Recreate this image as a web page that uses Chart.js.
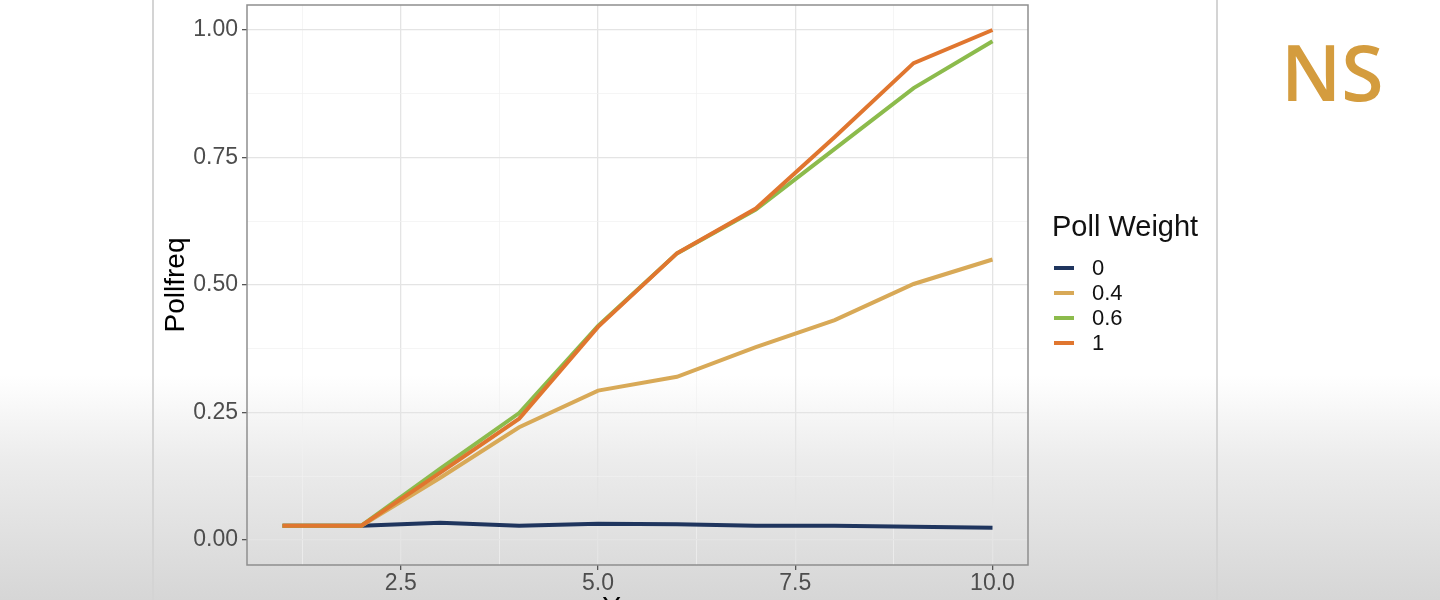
<!DOCTYPE html>
<html>
<head>
<meta charset="utf-8">
<script src="https://cdn.jsdelivr.net/npm/chart.js@4/dist/chart.umd.min.js"></script>
<style>
    html, body {
        margin: 0;
        padding: 0;
        width: 1440px;
        height: 600px;
        overflow: hidden;
    }
    body {
        position: relative;
        background: linear-gradient(to bottom, #ffffff 0px, #ffffff 375px, #ececec 460px, #d6d6d6 600px);
        font-family: "Liberation Sans", Arial, sans-serif;
    }
    .divider {
        position: absolute;
        top: 0;
        width: 2px;
        height: 600px;
        background: #d4d4d4;
    }
    #chartBox {
        position: absolute;
        left: 0;
        top: 0;
        width: 1440px;
        height: 640px;
    }
    #legend {
        position: absolute;
        left: 1052px;
        top: 209px;
        color: #111;
    }
    #legend .title {
        font-size: 29px;
        line-height: 34px;
        margin-bottom: 12px;
    }
    #legend .item {
        display: flex;
        align-items: center;
        height: 25px;
        font-size: 22px;
    }
    #legend .key {
        width: 20px;
        height: 4px;
        margin: 0 18px 0 2px;
    }
    #ns {
        position: absolute;
        left: 1281px;
        top: 22px;
        font-family: "Open Sans", sans-serif;
        font-weight: 600;
        font-size: 77px;
        line-height: 100px;
        color: #d49c3e;
    }
</style>
</head>
<body>
<div class="divider" style="left:152px"></div>
<div class="divider" style="left:1216px"></div>
<div id="chartBox"><canvas id="pollChart" width="1440" height="640"></canvas></div>
<div id="legend"></div>
<div id="ns">NS</div>

<script>
// Chart data
const steps = [1, 2, 3, 4, 5, 6, 7, 8, 9, 10];
const weightLabels = ['0', '0.4', '0.6', '1'];
const weightColors = ['#1f355e', '#d8a957', '#8cbb4c', '#e0762f'];
const freqW0 = [0.028, 0.028, 0.034, 0.028, 0.032, 0.031, 0.028, 0.028, 0.026, 0.024];
const freqW04 = [0.028, 0.028, 0.122, 0.221, 0.293, 0.320, 0.378, 0.431, 0.502, 0.550];
const freqW06 = [0.028, 0.028, 0.140, 0.249, 0.420, 0.562, 0.648, 0.767, 0.886, 0.978];
const freqW1 = [0.028, 0.028, 0.132, 0.238, 0.418, 0.562, 0.650, 0.790, 0.935, 1.000];
const xTicks = [1.25, 2.5, 3.75, 5, 6.25, 7.5, 8.75, 10];
const yTicks = [0, 0.125, 0.25, 0.375, 0.5, 0.625, 0.75, 0.875, 1];

const series = [freqW0, freqW04, freqW06, freqW1];

// Major ticks carry labels, minor ones only a light grid line
const isMajor = (v, step) => Math.abs(v / step - Math.round(v / step)) < 1e-6;

const makeDataset = (values, i) => ({
    label: weightLabels[i],
    data: steps.map((s, j) => ({ x: s, y: values[j] })),
    borderColor: weightColors[i],
    backgroundColor: weightColors[i],
    borderWidth: 4,
    pointRadius: 0,
    tension: 0,
    order: series.length - i
});

// Panel border like ggplot theme_bw
const panelBorder = {
    id: 'panelBorder',
    afterDraw: (chart) => {
        const { ctx, chartArea } = chart;
        ctx.save();
        ctx.strokeStyle = '#8e8e8e';
        ctx.lineWidth = 1.5;
        ctx.strokeRect(chartArea.left, chartArea.top,
            chartArea.right - chartArea.left, chartArea.bottom - chartArea.top);
        ctx.restore();
    }
};

const tickFont = { family: '"Liberation Sans", Arial, sans-serif', size: 23 };
const titleFont = { family: '"Liberation Sans", Arial, sans-serif', size: 28 };

const gridFor = (step) => ({
    color: (c) => isMajor(c.tick.value, step) ? '#e4e4e4' : '#f1f1f1',
    lineWidth: (c) => isMajor(c.tick.value, step) ? 1.3 : 0.7,
    tickColor: (c) => isMajor(c.tick.value, step) ? '#555555' : 'rgba(0,0,0,0)',
    tickLength: 5,
    tickWidth: 1.3
});

new Chart(document.getElementById('pollChart'), {
    type: 'line',
    data: { datasets: series.map(makeDataset) },
    options: {
        responsive: false,
        animation: false,
        devicePixelRatio: 1,
        layout: { padding: { left: 155, right: 412, top: 5, bottom: 0 } },
        plugins: {
            legend: { display: false },
            tooltip: { enabled: false }
        },
        scales: {
            x: {
                type: 'linear',
                min: 0.55,
                max: 10.45,
                afterBuildTicks: (scale) => { scale.ticks = xTicks.map(v => ({ value: v })); },
                afterFit: (scale) => {
                    scale.height = 75;
                    scale.paddingLeft = 0;
                    scale.paddingRight = 0;
                },
                grid: gridFor(2.5),
                border: { display: false },
                ticks: {
                    autoSkip: false,
                    maxRotation: 0,
                    padding: 0,
                    color: '#4d4d4d',
                    font: tickFont,
                    callback: (v) => isMajor(v, 2.5) ? v.toFixed(1) : ''
                },
                title: {
                    display: true,
                    text: 'Years',
                    color: '#000',
                    font: titleFont,
                    padding: { top: 0, bottom: 15 }
                }
            },
            y: {
                min: -0.049,
                max: 1.049,
                afterBuildTicks: (scale) => { scale.ticks = yTicks.map(v => ({ value: v })); },
                afterFit: (scale) => {
                    scale.width = 92;
                    scale.paddingTop = 0;
                    scale.paddingBottom = 0;
                },
                grid: gridFor(0.25),
                border: { display: false },
                ticks: {
                    autoSkip: false,
                    padding: 4,
                    color: '#4d4d4d',
                    font: tickFont,
                    callback: (v) => isMajor(v, 0.25) ? v.toFixed(2) : ''
                },
                title: {
                    display: true,
                    text: 'Pollfreq',
                    color: '#000',
                    font: titleFont,
                    padding: { top: 4, bottom: 0 }
                }
            }
        }
    },
    plugins: [panelBorder]
});

// Legend built from the same arrays
const legend = document.getElementById('legend');
legend.innerHTML = '<div class="title">Poll Weight</div>' + weightLabels.map((lbl, i) => `
    <div class="item"><span class="key" style="background:${weightColors[i]}"></span>${lbl}</div>
`).join('');
</script>
</body>
</html>
